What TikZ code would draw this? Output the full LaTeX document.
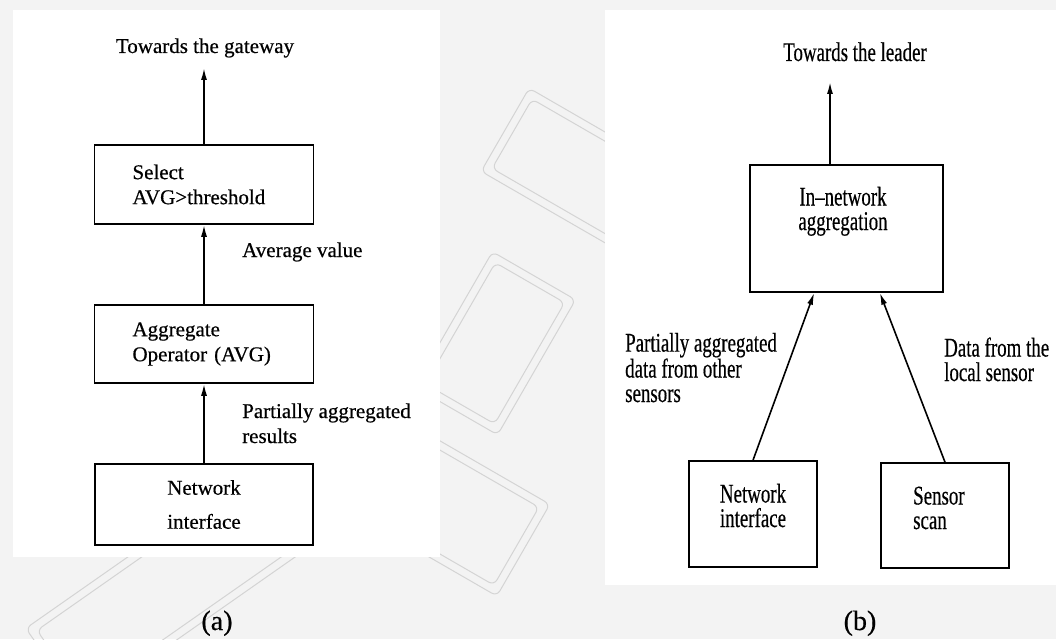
\documentclass[tikz,border=0pt]{standalone}
\usepackage{fontspec}
\setmainfont{Liberation Serif}[FakeBold=0.5]
\newfontfamily\narrowserif[FakeStretch=0.7, FakeBold=0.4]{Liberation Serif}
\usetikzlibrary{arrows.meta}
\definecolor{pagebg}{RGB}{243,243,243}
\definecolor{markline}{RGB}{212,212,212}

\begin{document}
\begin{tikzpicture}[x=1pt, y=-1pt,
  box/.style={draw, line width=1.6pt, inner sep=0pt},
  flow/.style={line width=1.6pt, -{Latex[length=12pt,width=6pt]}},
  lefttext/.style={font=\fontsize{21}{25}\selectfont, inner sep=0pt},
  righttext/.style={font=\narrowserif\fontsize{27}{24.5}\selectfont, inner sep=0pt},
  caption/.style={font=\fontsize{28}{30}\selectfont, inner sep=0pt}]

\useasboundingbox (0,0) rectangle (1056,639);
\fill[pagebg] (0,0) rectangle (1056,639);

% faint background motif of tilted frames
\begin{scope}[rotate around={-30:(520,300)}]
  \foreach \d in {0,8} {
    \draw[markline, line width=1pt, rounded corners=6pt]
      (430-\d,120-\d) rectangle (700+\d,200+\d);
    \draw[markline, line width=1pt, rounded corners=6pt]
      (300-\d,470-\d) rectangle (640+\d,560+\d);
    \draw[markline, line width=1pt, rounded corners=6pt]
      (480-\d,280-\d) rectangle (560+\d,420+\d);
  }
\end{scope}
\begin{scope}[rotate around={35:(150,600)}]
  \foreach \d in {0,8} {
    \draw[markline, line width=1pt, rounded corners=6pt]
      (40-\d,560-\d) rectangle (330+\d,640+\d);
  }
\end{scope}

% white panels
\fill[white] (13,10) rectangle (440,557);
\fill[white] (605,10) rectangle (1056,585);

% ---------------- (a) ----------------
\node[box, lefttext, minimum width=219pt, minimum height=79pt,
      text width=143pt, align=left, inner xsep=38pt]
  (sel) at (204,184.5) {Select\\AVG>threshold};
\node[box, lefttext, minimum width=219pt, minimum height=78pt,
      text width=143pt, align=left, inner xsep=38pt]
  (aggop) at (204,344) {Aggregate\\Operator (AVG)};
\node[box, lefttext, minimum width=218pt, minimum height=81pt, align=center]
  (netif) at (204,504.5) {Network\\[9pt]interface};

\coordinate (gw) at (204,68);
\node[lefttext, anchor=base] (gwlabel) at (205,53) {Towards the gateway};
\draw[flow] (sel.north) -- (gw);
\draw[flow] (aggop.north) -- (sel.south);
\draw[flow] (netif.north) -- (aggop.south);

\node[lefttext, anchor=base west] (avglabel) at (242,257) {Average value};
\node[lefttext, anchor=base west, align=left] (partlabel) at (242,443)
  {Partially aggregated\\results};
\node[caption, anchor=base] (capa) at (217,630) {(a)};

% ---------------- (b) ----------------
\node[box, minimum width=193pt, minimum height=127pt] (inagg) at (846.5,228.5) {};
\node[righttext, anchor=base, align=center] (inagglabel) at (843,230)
  {In–network\\aggregation};
\node[box, minimum width=128pt, minimum height=106pt] (ni) at (753,514) {};
\node[righttext, anchor=base, align=center] (nilabel) at (753,527)
  {Network\\interface};
\node[box, minimum width=128pt, minimum height=105pt] (ss) at (945,515.5) {};
\node[righttext, anchor=base west, align=left] (sslabel) at (913,529)
  {Sensor\\scan};

\coordinate (ld) at (830,82);
\node[righttext, anchor=base] (ldlabel) at (855,61) {Towards the leader};
\draw[flow] (inagg.north -| ld) -- (ld);
\draw[flow] (ni.north) -- ([xshift=65pt]inagg.south west);
\draw[flow] (ss.north) -- ([xshift=-64pt]inagg.south east);

\node[righttext, anchor=base west, align=left] (otherlabel) at (625,402)
  {Partially aggregated\\data from other\\sensors};
\node[righttext, anchor=base west, align=left] (locallabel) at (944,381)
  {Data from the\\local sensor};
\node[caption, anchor=base] (capb) at (860,630) {(b)};
\end{tikzpicture}
\end{document}
